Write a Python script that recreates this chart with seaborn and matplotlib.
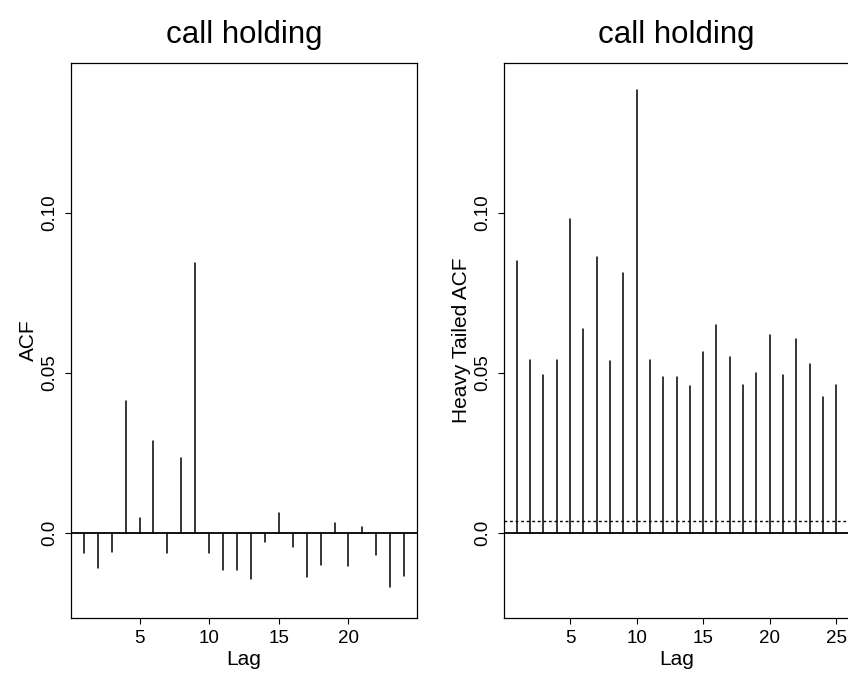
import numpy as np
import pandas as pd
import matplotlib
matplotlib.use("Agg")
import matplotlib.pyplot as plt
import seaborn as sns

# ---- data ----
lags_left = list(range(1, 25))
acf_left = [-0.0064, -0.0111, -0.0061, 0.0412, 0.0045, 0.0287, -0.0062, 0.0234,
            0.0842, -0.0062, -0.0117, -0.0115, -0.0146, -0.0028, 0.0061, -0.0045,
            -0.0137, -0.0100, 0.0030, -0.0104, 0.0017, -0.0070, -0.0171, -0.0136]

lags_right = list(range(1, 26))
acf_right = [0.0849, 0.0539, 0.0492, 0.0539, 0.0982, 0.0637, 0.0863, 0.0537,
             0.0812, 0.1385, 0.0539, 0.0487, 0.0488, 0.0457, 0.0565, 0.0648,
             0.0549, 0.0462, 0.0498, 0.0618, 0.0494, 0.0605, 0.0527, 0.0425,
             0.0461]
ref_level_right = 0.0036

title_text = "call holding"
xlabel_text = "Lag"
ylabel_left = "ACF"
ylabel_right = "Heavy Tailed ACF"
yticks = [0.0, 0.05, 0.10]
yticklabels = ["0.0", "0.05", "0.10"]
xticks_left = [5, 10, 15, 20]
xticks_right = [5, 10, 15, 20, 25]

sns.set_theme(style="white")
plt.rcParams["font.family"] = ["Liberation Sans", "DejaVu Sans"]


def spike_frame(lags, vals):
    rows = []
    for l, v in zip(lags, vals):
        rows.append({"lag": l, "val": 0.0})
        rows.append({"lag": l, "val": v})
    return pd.DataFrame(rows)


fig = plt.figure(figsize=(8.48, 6.77), dpi=100)
W, H = 848, 677
top_px, bot_px = 63, 617.5
axL = fig.add_axes([71 / W, 1 - bot_px / H, 346 / W, (bot_px - top_px) / H])
axR = fig.add_axes([504 / W, 1 - bot_px / H, 345 / W, (bot_px - top_px) / H])

ylim = (-0.0265, 0.1468)

for ax, lags, vals, xt, ylab in [
    (axL, lags_left, acf_left, xticks_left, ylabel_left),
    (axR, lags_right, acf_right, xticks_right, ylabel_right),
]:
    df = spike_frame(lags, vals)
    sns.lineplot(data=df, x="lag", y="val", units="lag", estimator=None,
                 color="black", lw=1.1, ax=ax, legend=False)
    ax.axhline(0, color="black", lw=1.3)
    n = len(lags)
    ext = 0.04 * (n - 1)
    ax.set_xlim(lags[0] - ext, lags[-1] + ext)
    ax.set_ylim(*ylim)
    ax.set_xticks(xt)
    ax.set_xticklabels([str(t) for t in xt], fontsize=13.5)
    ax.set_yticks(yticks)
    ax.set_yticklabels(yticklabels, fontsize=13.5, rotation=90, va="center")
    ax.tick_params(axis="both", direction="out", length=4, width=0.8,
                   color="black", labelcolor="black", pad=5.2,
                   bottom=True, left=True)
    for s in ax.spines.values():
        s.set_visible(True)
        s.set_color("black")
        s.set_linewidth(0.9)
    ax.set_xlabel(xlabel_text, fontsize=15, labelpad=2, color="black")
    ax.set_ylabel(ylab, fontsize=15, labelpad=2, color="black")
    ax.set_title(title_text, fontsize=22.5, pad=14.5, color="black")
    ax.grid(False)

axR.axhline(ref_level_right, color="black", lw=1.0, ls=(0, (2, 2)))

fig.savefig("out.png", dpi=100)
